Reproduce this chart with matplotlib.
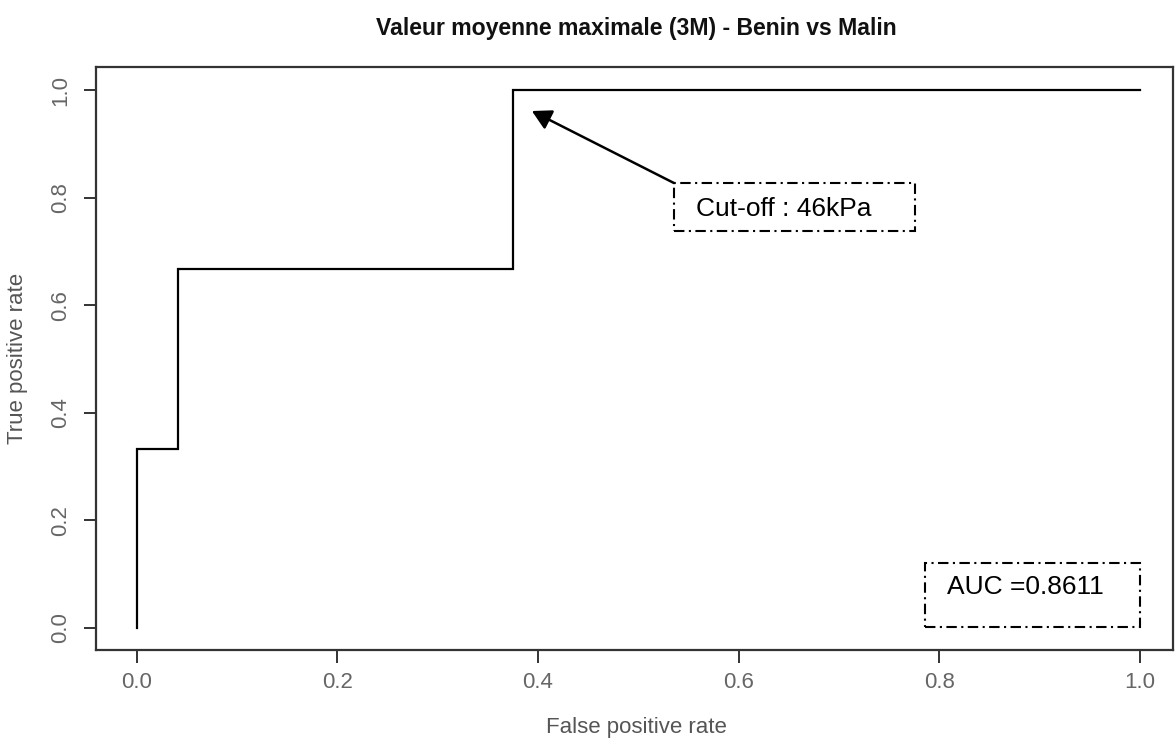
import numpy as np
import matplotlib
matplotlib.use("Agg")
import matplotlib.pyplot as plt
from matplotlib.patches import Rectangle
from matplotlib import font_manager

# ROC curve points (false positive rate, true positive rate)
fpr = [0.0, 0.0, 0.0417, 0.0417, 0.375, 0.375, 1.0]
tpr = [0.0, 0.3333, 0.3333, 0.6667, 0.6667, 1.0, 1.0]

x_ticks = [0.0, 0.2, 0.4, 0.6, 0.8, 1.0]
y_ticks = [0.0, 0.2, 0.4, 0.6, 0.8, 1.0]
tick_labels = ["0.0", "0.2", "0.4", "0.6", "0.8", "1.0"]

title = "Valeur moyenne maximale (3M) - Benin vs Malin"
x_label = "False positive rate"
y_label = "True positive rate"
cutoff_text = "Cut-off : 46kPa"

auc = np.trapezoid(tpr, fpr)
auc_text = f"AUC ={auc:.4f}"

installed = {f.name for f in font_manager.fontManager.ttflist}
narrow = "Liberation Sans Narrow" if "Liberation Sans Narrow" in installed else "Liberation Sans"
plt.rcParams["font.family"] = ["Liberation Sans", "DejaVu Sans"]
plt.rcParams["lines.scale_dashes"] = False

W, H = 1176, 747
fig = plt.figure(figsize=(W / 100, H / 100), dpi=100)
fig.patch.set_facecolor("white")

left, right, top, bottom = 96, 1173, 67, 650
ax = fig.add_axes([left / W, 1 - bottom / H, (right - left) / W, (bottom - top) / H])

ax.plot(fpr, tpr, color="black", lw=1.6, solid_joinstyle="miter")

ax.set_xlim(-0.0404, 1.0329)
ax.set_ylim(-0.0409, 1.0428)

ax.set_xticks(x_ticks)
ax.set_xticklabels(tick_labels)
ax.set_yticks(y_ticks)
ax.set_yticklabels(tick_labels, rotation=90, va="center")

for side in ["top", "right", "bottom", "left"]:
    ax.spines[side].set_color("#333333")
    ax.spines[side].set_linewidth(1.6)

ax.tick_params(direction="out", length=9, width=1.4, color="#333333",
               labelcolor="#666666", labelsize=16)
ax.tick_params(axis="x", pad=7)
ax.tick_params(axis="y", pad=9)
for lbl in ax.get_xticklabels() + ax.get_yticklabels():
    lbl.set_fontfamily(narrow)

fig.text(636.5 / W, 1 - 35 / H, title, ha="center", va="baseline",
         fontsize=16.6, fontweight="bold", color="#111111")
fig.text(636 / W, 1 - 728 / H, x_label, ha="center", va="center",
         fontsize=16, color="#555555", fontfamily=narrow)
fig.text(18 / W, 1 - 358 / H, y_label, ha="center", va="center", rotation=90,
         fontsize=16, color="#555555", fontfamily=narrow)

dotdash = (0, (7.5, 3.2, 1.5, 3.2))

# Cut-off annotation box with arrow
ax.add_patch(Rectangle((0.5356, 0.7379), 0.7758 - 0.5356, 0.8271 - 0.7379,
                       fill=False, lw=1.5, ls=dotdash, ec="black"))
ax.text(0.5575, 0.7788, cutoff_text, ha="left", va="center", fontsize=19, color="black")
ax.annotate("", xy=(0.394, 0.961), xytext=(0.5356, 0.8271),
            arrowprops=dict(arrowstyle="-|>,head_length=0.4,head_width=0.22",
                            mutation_scale=29, color="black", lw=1.8,
                            shrinkA=0, shrinkB=0))

# AUC box
ax.add_patch(Rectangle((0.7858, 0.0019), 1.0 - 0.7858, 0.1208 - 0.0019,
                       fill=False, lw=1.5, ls=dotdash, ec="black"))
ax.text(0.8077, 0.0762, auc_text, ha="left", va="center", fontsize=19, color="black")

fig.savefig("out.png", dpi=100, facecolor="white")
